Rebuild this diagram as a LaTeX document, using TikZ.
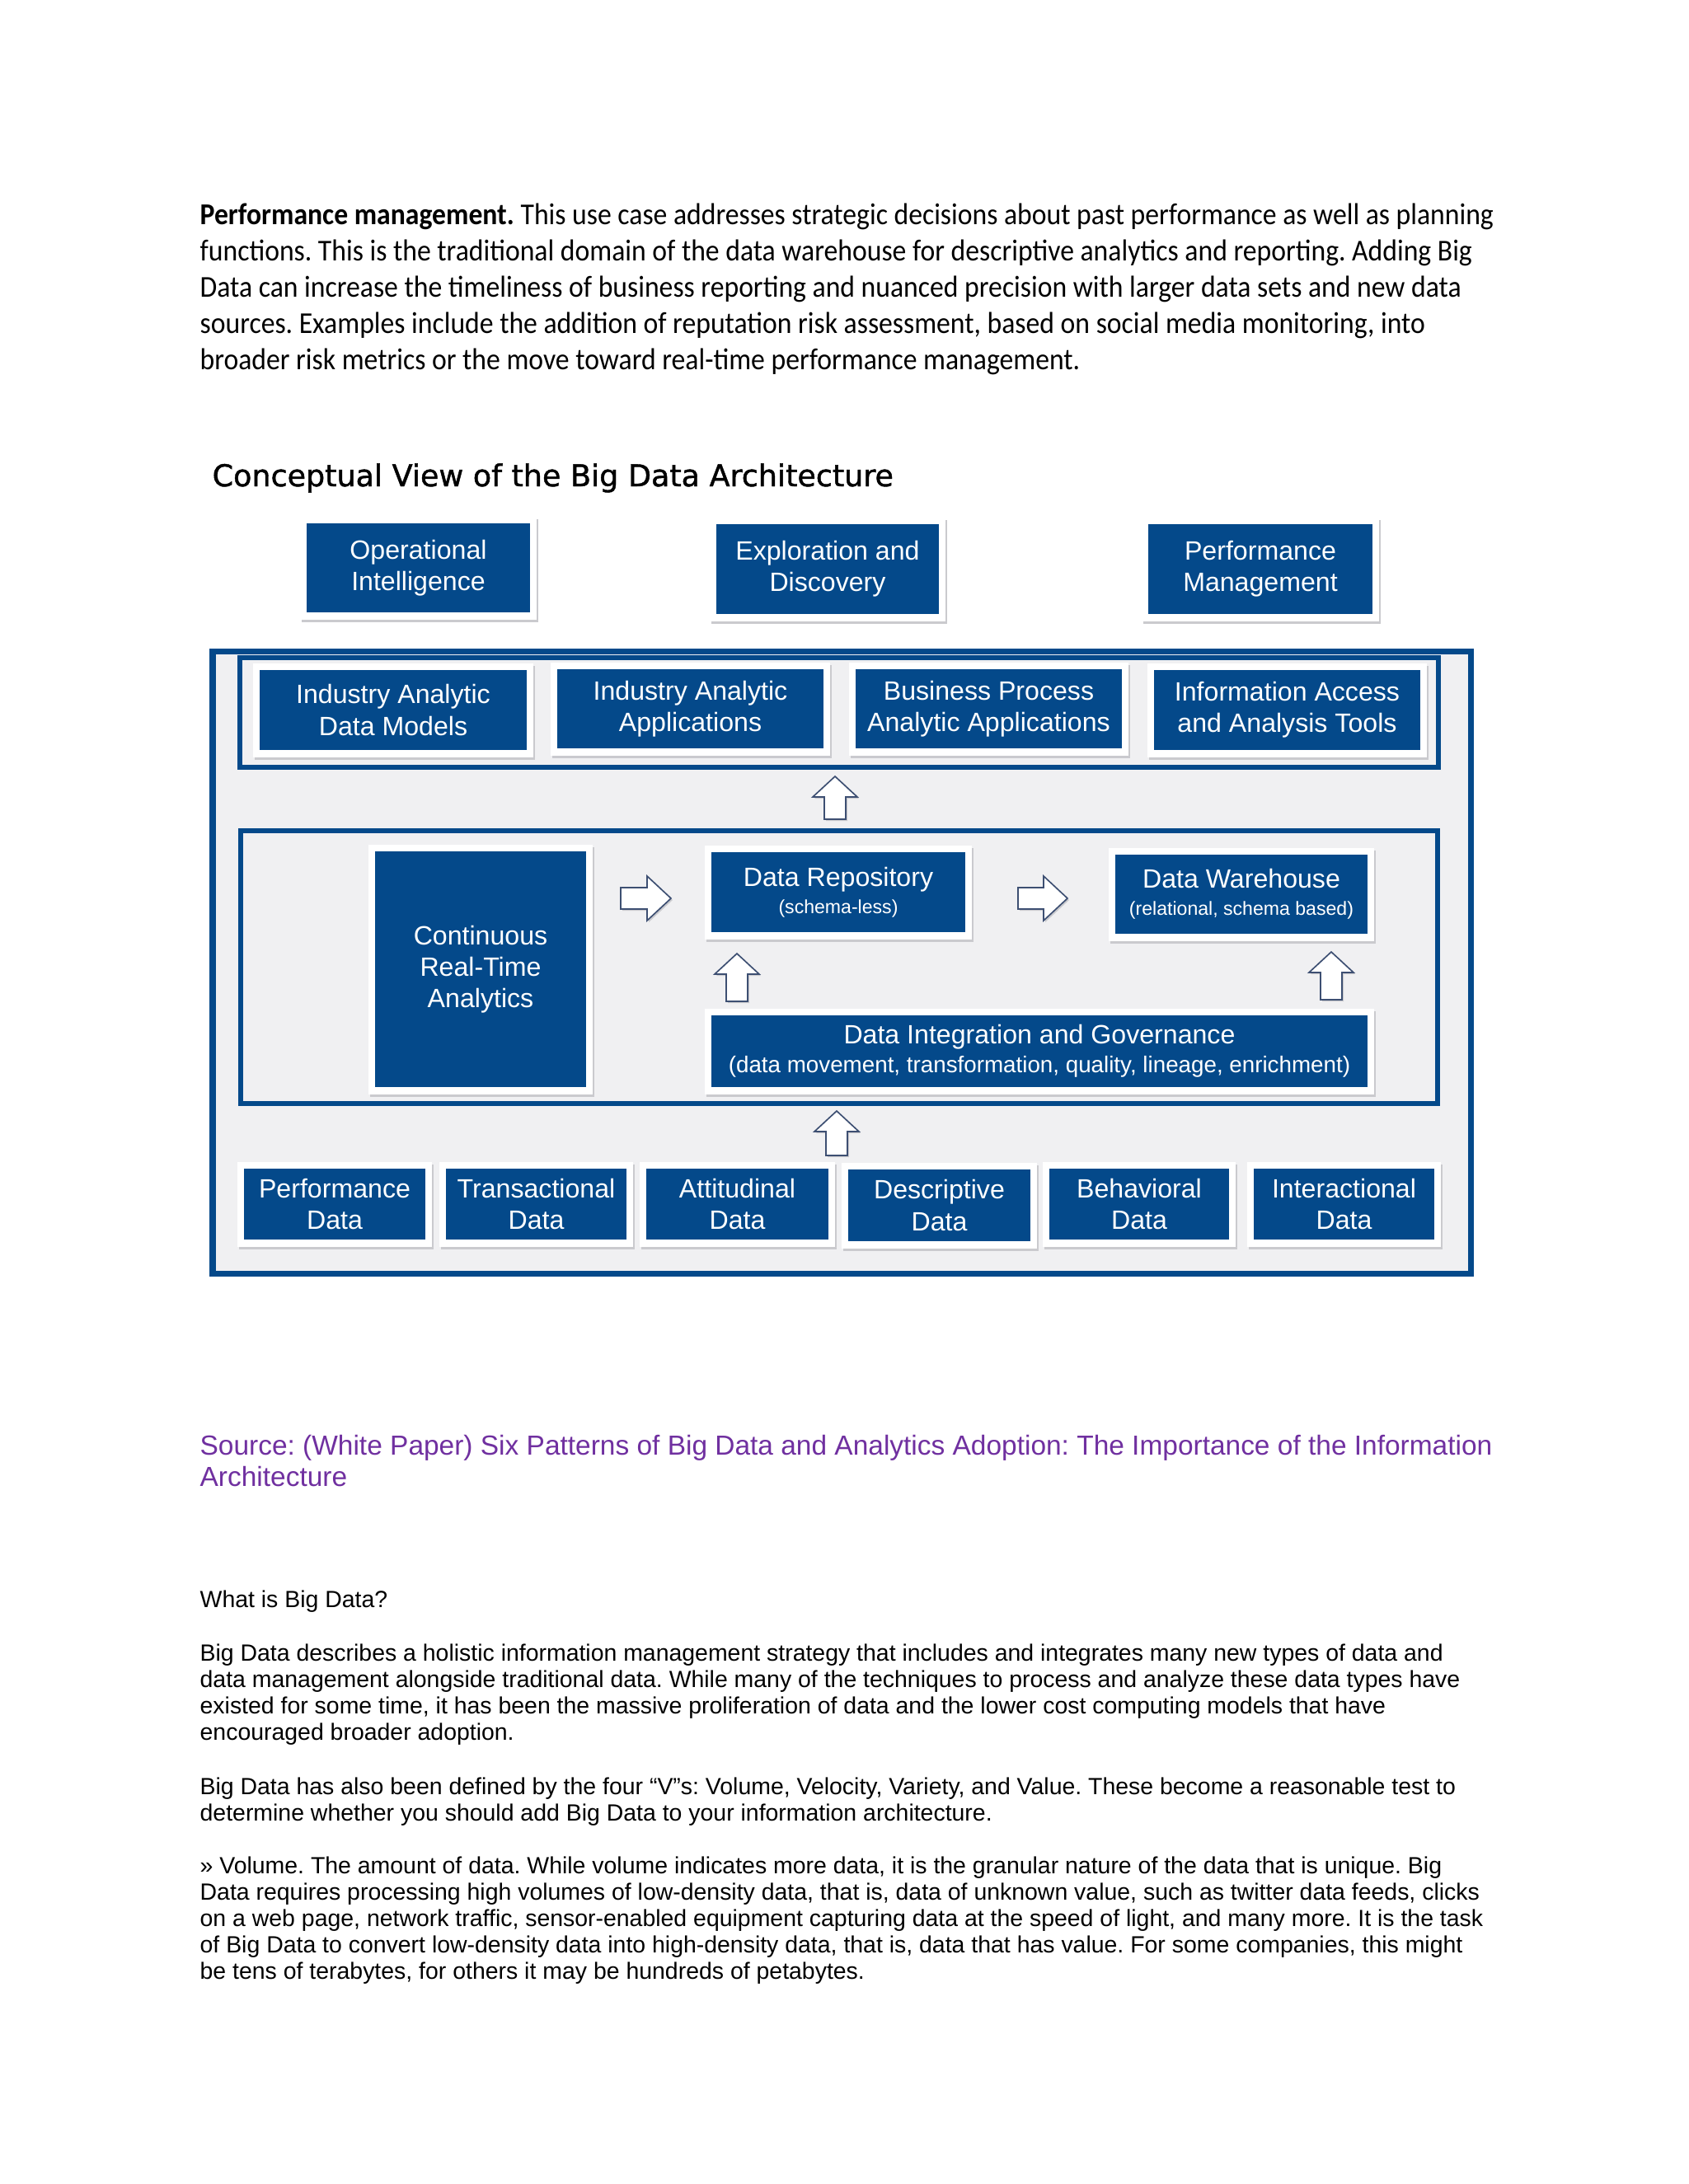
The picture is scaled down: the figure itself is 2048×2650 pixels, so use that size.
\documentclass[tikz,border=0pt]{standalone}
\usepackage{fontspec}
\setmainfont{Liberation Sans}
\newfontfamily\calibri[FakeStretch=0.915]{Carlito}
\newfontfamily\tahoma[FakeBold=1.2]{DejaVu Sans}
\usetikzlibrary{calc}
\frenchspacing
\definecolor{navy}{HTML}{04498A}
\definecolor{panelbg}{HTML}{F0F0F2}
\definecolor{arrowline}{HTML}{3D4F72}
\definecolor{srcpurple}{HTML}{7030A0}
\definecolor{shadowc}{HTML}{CACACE}
\tikzset{
  bluebox/.style={fill=navy, text=white, inner sep=0pt, align=center,
    font=\fontsize{9.6}{11.4}\selectfont},
  blockarrow/.style={fill=white, draw=arrowline, line width=0.5pt, line join=miter},
  txt/.style={anchor=base west, inner sep=0pt},
  panel/.style={draw=navy, fill=panelbg},
}
\newcommand\unitbox[6]{%
  \fill[shadowc] (#2-8+2,#3-8+3) rectangle (#4+8+2,#5+9+3);
  \fill[white] (#2-8,#3-8) rectangle (#4+8,#5+9);
  \node[bluebox, minimum width={(#4-#2)*0.29887pt}, minimum height={(#5-#3)*0.29887pt}]
    (#1) at ({(#2+#4)/2},{(#3+#5)/2}) {#6};
}
% up arrow: name, cx, ytop, ybottom
\newcommand\uparr[4]{%
  \coordinate (#1) at (#2,#3);
  \fill[shadowc] (#2+2,#3+2) -- (#2+29,#3+27) -- (#2+15,#3+27) -- (#2+15,#4+2)
    -- (#2-11,#4+2) -- (#2-11,#3+27) -- (#2-25,#3+27) -- cycle;
  \draw[blockarrow] (#1) -- (#2+27,#3+25) -- (#2+13,#3+25) -- (#2+13,#4)
    -- (#2-13,#4) -- (#2-13,#3+25) -- (#2-27,#3+25) -- cycle;
}
% right arrow: name, xleft, xtip, cy
\newcommand\rtarr[4]{%
  \coordinate (#1) at (#3,#4);
  \fill[shadowc] (#3+2,#4+2) -- (#3-27,#4-25) -- (#3-27,#4-11) -- (#2+2,#4-11)
    -- (#2+2,#4+15) -- (#3-27,#4+15) -- (#3-27,#4+29) -- cycle;
  \draw[blockarrow] (#1) -- (#3-29,#4-27) -- (#3-29,#4-13) -- (#2,#4-13)
    -- (#2,#4+13) -- (#3-29,#4+13) -- (#3-29,#4+27) -- cycle;
}
% paragraph lines: name, x, y0, dy, font, lines
\newcommand\paralines[6]{%
  \foreach \t [count=\i] in {#6}
    \node[txt, font=#5] (#1-\i) at (#2,{#3+#4*(\i-1)}) {\t};
}
\begin{document}
\begin{tikzpicture}[x=0.29887pt, y=-0.29887pt]
\useasboundingbox (0,0) rectangle (2048,2650);
\fill[white] (0,0) rectangle (2048,2650);

% ---------- first paragraph ----------
\paralines{pa}{242}{272}{44}{\calibri\fontsize{11}{13}\selectfont}{%
 {\textbf{Performance management.} This use case addresses strategic decisions about past performance as well as planning},
 {functions. This is the traditional domain of the data warehouse for descriptive analytics and reporting. Adding Big},
 {Data can increase the timeliness of business reporting and nuanced precision with larger data sets and new data},
 {sources. Examples include the addition of reputation risk assessment, based on social media monitoring, into},
 {broader risk metrics or the move toward real-time performance management.}}

% ---------- title ----------
\node[txt, font=\tahoma\fontsize{10.9}{13}\selectfont] (title) at (257,590)
  {Conceptual View of the Big Data Architecture};

% ---------- top use cases ----------
\unitbox{opi}{372}{635}{643}{743}{Operational\\Intelligence}
\unitbox{exp}{869}{636}{1139}{745}{Exploration and\\Discovery}
\unitbox{pm}{1393}{636}{1665}{745}{Performance\\Management}

% ---------- outer frame and panels ----------
\draw[panel, line width=2.1pt] (258,790) rectangle (1784,1545);
\draw[panel, line width=1.8pt] (291,798) rectangle (1745,931);
\draw[panel, line width=1.8pt] (292,1008) rectangle (1744,1339);

% ---------- applications row ----------
\unitbox{iadm}{315}{813}{639}{910}{Industry Analytic\\Data Models}
\unitbox{iaa}{676}{812}{999}{908}{Industry Analytic\\Applications}
\unitbox{bpaa}{1038}{812}{1361}{908}{Business Process\\Analytic Applications}
\unitbox{iaat}{1400}{813}{1723}{910}{Information Access\\and Analysis Tools}

\uparr{aTop}{1013}{942}{994}

% ---------- middle panel ----------
\unitbox{crta}{455}{1033}{711}{1319}{\fontsize{9.6}{12.4}\selectfont Continuous\\Real-Time\\Analytics}
\unitbox{repo}{863}{1034}{1171}{1131}{Data Repository\\[-1.5pt]{\fontsize{6.9}{8}\selectfont (schema-less)}}
\unitbox{wh}{1353}{1037}{1659}{1133}{Data Warehouse\\[-1.5pt]{\fontsize{6.9}{8}\selectfont (relational, schema based)}}
\unitbox{dig}{863}{1232}{1659}{1319}{Data Integration and Governance\\[-1pt]{\fontsize{8.3}{9.6}\selectfont (data movement, transformation, quality, lineage, enrichment)}}

\rtarr{aR1}{753}{814}{1090}
\rtarr{aR2}{1235}{1295}{1090}
\uparr{aU1}{894}{1157}{1215}
\uparr{aU2}{1615}{1155}{1213}
\uparr{aBot}{1015}{1348}{1402}

% ---------- data sources ----------
\unitbox{pd}{296}{1418}{516}{1504}{Performance\\Data}
\unitbox{td}{541}{1418}{760}{1504}{Transactional\\Data}
\unitbox{ad}{784}{1418}{1005}{1504}{Attitudinal\\Data}
\unitbox{dd}{1029}{1419}{1250}{1506}{Descriptive\\Data}
\unitbox{bd}{1273}{1418}{1491}{1504}{Behavioral\\Data}
\unitbox{intd}{1521}{1418}{1740}{1504}{Interactional\\Data}

% ---------- source ----------
\paralines{src}{242}{1765}{38}{\color{srcpurple}\fontsize{10}{12}\selectfont}{%
 {Source: (White Paper) Six Patterns of Big Data and Analytics Adoption: The Importance of the Information},
 {Architecture}}

% ---------- body text ----------
\node[txt, font=\fontsize{8.5}{10}\selectfont] (q) at (242,1950) {What is Big Data?};
\paralines{pA}{242}{2015}{32}{\fontsize{8.5}{10}\selectfont}{%
 {Big Data describes a holistic information management strategy that includes and integrates many new types of data and},
 {data management alongside traditional data. While many of the techniques to process and analyze these data types have},
 {existed for some time, it has been the massive proliferation of data and the lower cost computing models that have},
 {encouraged broader adoption.}}
\paralines{pB}{242}{2177}{32}{\fontsize{8.5}{10}\selectfont}{%
 {Big Data has also been defined by the four “V”s: Volume, Velocity, Variety, and Value. These become a reasonable test to},
 {determine whether you should add Big Data to your information architecture.}}
\paralines{pC}{242}{2273}{32}{\fontsize{8.5}{10}\selectfont}{%
 {» Volume. The amount of data. While volume indicates more data, it is the granular nature of the data that is unique. Big},
 {Data requires processing high volumes of low-density data, that is, data of unknown value, such as twitter data feeds, clicks},
 {on a web page, network traffic, sensor-enabled equipment capturing data at the speed of light, and many more. It is the task},
 {of Big Data to convert low-density data into high-density data, that is, data that has value. For some companies, this might},
 {be tens of terabytes, for others it may be hundreds of petabytes.}}
\end{tikzpicture}
\end{document}
